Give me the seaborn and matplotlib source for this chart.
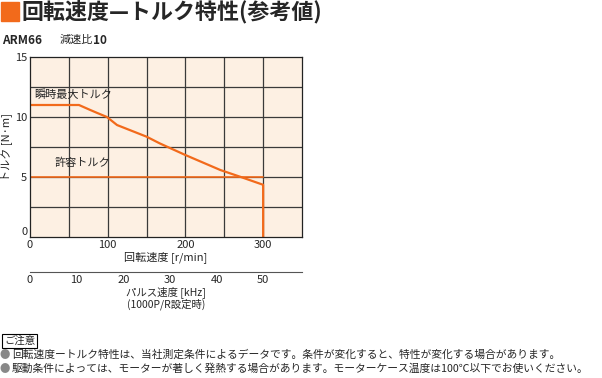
import matplotlib
matplotlib.use("Agg")
import matplotlib.pyplot as plt
import matplotlib.patches as mpatches
import seaborn as sns
import pandas as pd

sns.set_style("white")
plt.rcParams['font.family'] = ['Noto Sans CJK JP', 'DejaVu Sans']

# 瞬時最大トルク (回転速度 r/min, トルク N·m)
max_speed = [0, 63, 77, 86, 99, 112, 150, 167, 200, 245, 270, 300, 300]
max_torque = [11.0, 11.0, 10.6, 10.35, 10.0, 9.33, 8.36, 7.8, 6.83, 5.58, 5.03, 4.35, 0]
# 許容トルク
rated_speed = [0, 300]
rated_torque = [5.0, 5.0]

x_ticks = [0, 100, 200, 300]
y_ticks = [0, 5, 10, 15]
pulse_ticks = [0, 10, 20, 30, 40, 50]

orange = "#f26a1b"
df_max = pd.DataFrame({"speed": max_speed, "torque": max_torque})
df_rated = pd.DataFrame({"speed": rated_speed, "torque": rated_torque})

fig = plt.figure(figsize=(6.02, 3.78), dpi=100)
W, H = 602, 378
ax = fig.add_axes([30 / W, 1 - 237 / H, 272 / W, 180 / H])
ax.set_facecolor("#fdf0e3")

sns.lineplot(data=df_max, x="speed", y="torque", color=orange, lw=1.6, ax=ax,
             sort=False, estimator=None)
sns.lineplot(data=df_rated, x="speed", y="torque", color=orange, lw=1.2, ax=ax,
             sort=False, estimator=None)

ax.set_xlim(0, 350)
ax.set_ylim(0, 15)
for v in range(50, 350, 50):
    ax.axvline(v, color="#3a3a3a", lw=0.9, zorder=0)
for v in [2.5, 5, 7.5, 10, 12.5]:
    ax.axhline(v, color="#3a3a3a", lw=0.9, zorder=0)
ax.set_xticks(x_ticks)
ax.set_yticks(y_ticks)
ax.tick_params(axis="x", length=0, labelsize=8, pad=2)
ax.tick_params(axis="y", length=0, labelsize=8, pad=2)
ax.get_yticklabels()[0].set_verticalalignment("bottom")
for s in ax.spines.values():
    s.set_color("#222222")
    s.set_linewidth(0.9)
ax.set_xlabel("回転速度 [r/min]", fontsize=8, labelpad=1)
ax.set_ylabel("トルク [N·m]", fontsize=8, labelpad=2)

ax.text(6, 11.9, "瞬時最大トルク", fontsize=8, va="center")
ax.text(32, 6.2, "許容トルク", fontsize=8, va="center")

# パルス速度軸
ax2 = fig.add_axes([30 / W, 1 - 272 / H, 272 / W, 0.001])
ax2.set_xlim(0, 350 / 6)
ax2.set_xticks(pulse_ticks)
ax2.set_yticks([])
for k in ["left", "right", "top"]:
    ax2.spines[k].set_visible(False)
ax2.spines["bottom"].set_color("#555555")
ax2.tick_params(axis="x", direction="in", length=4, labelsize=8, pad=2, color="#555555")
ax2.set_xlabel("パルス速度 [kHz]\n(1000P/R設定時)", fontsize=7.5, labelpad=1, linespacing=1.0)
ax2.set_facecolor("none")

# タイトル
fig.patches.append(mpatches.Rectangle((1 / W, 1 - 21 / H), 18 / W, 19 / H,
                                      transform=fig.transFigure, color=orange))
fig.text(21 / W, 1 - 12 / H, "回転速度—トルク特性(参考値)", fontsize=15.8,
         fontweight="bold", va="center")
fig.text(2 / W, 1 - 40 / H, "ARM66", fontsize=8.5, fontweight="bold", va="center")
fig.text(60 / W, 1 - 40 / H, "減速比", fontsize=8, va="center")
fig.text(93 / W, 1 - 40 / H, "10", fontsize=8.5, fontweight="bold", va="center")

# ご注意
fig.text(4 / W, 1 - 341 / H, "ご注意", fontsize=7.5, va="center",
         bbox=dict(boxstyle="square,pad=0.15", fc="white", ec="black", lw=0.8))
notes = ["回転速度ートルク特性は、当社測定条件によるデータです。条件が変化すると、特性が変化する場合があります。",
         "駆動条件によっては、モーターが著しく発熱する場合があります。モーターケース温度は100℃以下でお使いください。"]
for i, t in enumerate(notes):
    y = 1 - (355 + 14 * i) / H
    fig.text(5 / W, y, "●", fontsize=7.5, va="center", ha="center", color="#888888")
    fig.text(12 / W, y, t, fontsize=7.75, va="center")

fig.savefig("out.png", dpi=100)
